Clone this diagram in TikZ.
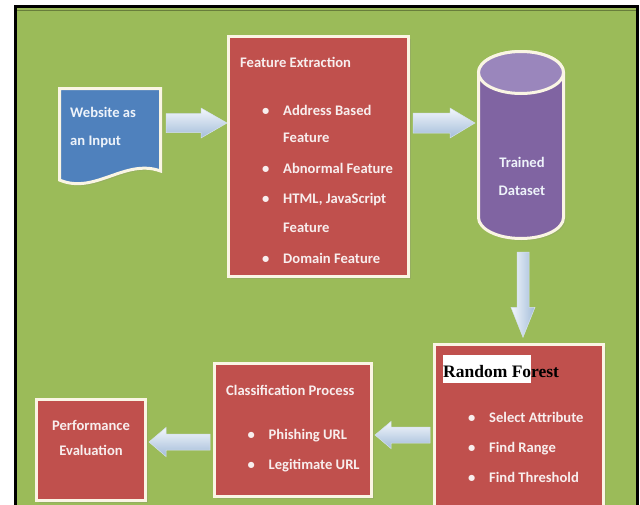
\documentclass[tikz,border=0pt]{standalone}
\usepackage{fontspec}
\setmainfont{Carlito}
\newfontfamily\timesf{Liberation Serif}
\usetikzlibrary{calc,shadows}
\definecolor{bggreen}{HTML}{9BBB59}
\definecolor{boxred}{HTML}{C0504D}
\definecolor{cream}{HTML}{FAF5E4}
\definecolor{webblue}{HTML}{4F81BD}
\definecolor{cylbody}{HTML}{8064A2}
\definecolor{cyltop}{HTML}{9A86BC}
\definecolor{txtc}{HTML}{F8EEEE}
\definecolor{txtb}{HTML}{EEF3FA}
\definecolor{arrtop}{HTML}{F3F7FC}
\definecolor{arrbot}{HTML}{A3BCD9}
\definecolor{arredge}{HTML}{D5E1EF}
\newcommand\lblfont{\fontsize{14.6}{28}\selectfont\bfseries}
\newcommand\bul{\makebox[21pt][l]{\textbullet}}
\newcommand\RArr[5]{\path[blockarrow] ($(#1)+(0,-#3)$) -- ($(#2)+(-#5,-#3)$) -- ($(#2)+(-#5,-#4)$) -- (#2) -- ($(#2)+(-#5,#4)$) -- ($(#2)+(-#5,#3)$) -- ($(#1)+(0,#3)$) -- cycle;}
\newcommand\LArr[5]{\path[blockarrow] ($(#1)+(0,-#3)$) -- ($(#2)+(#5,-#3)$) -- ($(#2)+(#5,-#4)$) -- (#2) -- ($(#2)+(#5,#4)$) -- ($(#2)+(#5,#3)$) -- ($(#1)+(0,#3)$) -- cycle;}
\newcommand\DArr[5]{\path[blockarrowv] ($(#1)+(-#3,0)$) -- ($(#2)+(-#3,-#5)$) -- ($(#2)+(-#4,-#5)$) -- (#2) -- ($(#2)+(#4,-#5)$) -- ($(#2)+(#3,-#5)$) -- ($(#1)+(#3,0)$) -- cycle;}
\tikzset{
  softshadow/.style={drop shadow={opacity=0.22, shadow xshift=2pt, shadow yshift=-2pt}},
  redbox/.style={draw=cream, line width=3pt, fill=boxred, inner sep=0pt, softshadow},
  ghost/.style={inner sep=0pt, outer sep=0pt},
  lbl/.style={font=\lblfont, text=txtc, inner sep=0pt, anchor=base west},
  clbl/.style={font=\lblfont, text=txtc, inner sep=0pt, anchor=base},
  blockarrow/.style={top color=arrtop, bottom color=arrbot, draw=arredge, line width=0.5pt},
  blockarrowv/.style={left color=arrtop, right color=arrbot, draw=arredge, line width=0.5pt},
}
\begin{document}
\begin{tikzpicture}[x=1pt, y=-1pt]
\useasboundingbox (0,0) rectangle (640,504);
\clip (0,0) rectangle (640,504);
\fill[white] (0,0) rectangle (640,504);
% frame and background
\filldraw[fill=bggreen, draw=black, line width=3pt] (15.5,6.5) rectangle (637.5,540);
\draw[black!55!bggreen, line width=1pt, opacity=0.6] (17,10) -- (636,10);

% website as an input (document shape)
\node[ghost, minimum width=104pt, minimum height=95pt] (web) at (110,134.5) {};
\filldraw[fill=webblue, draw=cream, line width=3pt, softshadow]
  (59.5,88.5) -- (160.5,88.5) -- (160.5,171)
  .. controls (125,158) and (95,195) .. (59.5,180) -- cycle;
\node[lbl, text=txtb] (web1) at (70,117) {Website as};
\node[lbl, text=txtb] (web2) at (70,145) {an Input};

% feature extraction
\node[redbox, minimum width=180pt, minimum height=240pt] (fe) at (318.5,156.5) {};
\node[lbl] (fet) at (240,67) {Feature Extraction};
\node[lbl] (fe1) at (262,115) {\bul Address Based};
\node[lbl] (fe2) at (283,142) {Feature};
\node[lbl] (fe3) at (262,173) {\bul Abnormal Feature};
\node[lbl] (fe4) at (262,203) {\bul HTML, JavaScript};
\node[lbl] (fe5) at (283,232) {Feature};
\node[lbl] (fe6) at (262,263) {\bul Domain Feature};

% trained dataset cylinder
\node[ghost, minimum width=88pt, minimum height=190pt] (ds) at (521,145) {};
\path[fill=cylbody, draw=cream, line width=3pt, softshadow]
  (478.5,72.5) -- (478.5,217.5)
  arc[start angle=180, end angle=360, x radius=42.5pt, y radius=21pt]
  -- (563.5,72.5)
  arc[start angle=0, end angle=180, x radius=42.5pt, y radius=21pt] -- cycle;
\filldraw[fill=cyltop, draw=cream, line width=3pt] (521,72.5) ellipse [x radius=42.5pt, y radius=21pt];
\node[clbl, text=txtb] (ds1) at (522,167) {Trained};
\node[clbl, text=txtb] (ds2) at (522,195) {Dataset};

% random forest
\node[redbox, minimum width=169pt, minimum height=195pt] (rf) at (519,442.25) {};
\node[inner sep=0pt, anchor=base west, text=black] (rft) at (443,377)
  {\timesf\bfseries\fontsize{17.5}{20}\selectfont\setlength{\fboxsep}{0pt}\colorbox{white}{\rule[-6pt]{0pt}{28pt}Random Fo}rest};
\node[lbl] (rf1) at (468,422) {\bul Select Attribute};
\node[lbl] (rf2) at (468,452) {\bul Find Range};
\node[lbl] (rf3) at (468,482) {\bul Find Threshold};

% classification process
\node[redbox, minimum width=157pt, minimum height=133pt] (cp) at (293,430) {};
\node[lbl] (cpt) at (226,395) {Classification Process};
\node[lbl] (cp1) at (247.5,439) {\bul Phishing URL};
\node[lbl] (cp2) at (247.5,469) {\bul Legitimate URL};

% performance evaluation
\node[redbox, minimum width=109pt, minimum height=101pt] (pe) at (91,450) {};
\node[clbl] (pe1) at (91,430) {Performance};
\node[clbl] (pe2) at (91,455) {Evaluation};

% block arrows
\coordinate (a1s) at ($(web.east |- 0,123)+(4,0)$);
\coordinate (a1e) at (fe.west |- 0,123);
\RArr{a1s}{a1e}{9.5}{15}{26}
\coordinate (a2s) at ($(fe.east |- 0,123)+(3,0)$);
\coordinate (a2e) at ($(ds.west |- 0,123)+(-2,0)$);
\RArr{a2s}{a2e}{10}{15}{25}
\coordinate (a3s) at ($(ds.south)+(2,12)$);
\coordinate (a3e) at ($(ds.south |- rf.north)+(2,-6)$);
\DArr{a3s}{a3e}{6}{12}{30}
\coordinate (a4s) at ($(rf.west |- 0,435)+(-3,0)$);
\coordinate (a4e) at ($(cp.east |- 0,435)+(2,0)$);
\LArr{a4s}{a4e}{8}{13.5}{16}
\coordinate (a5s) at ($(cp.west |- 0,442)+(-3,0)$);
\coordinate (a5e) at ($(pe.east |- 0,442)+(2,0)$);
\LArr{a5s}{a5e}{8}{14.5}{17}
\end{tikzpicture}
\end{document}
